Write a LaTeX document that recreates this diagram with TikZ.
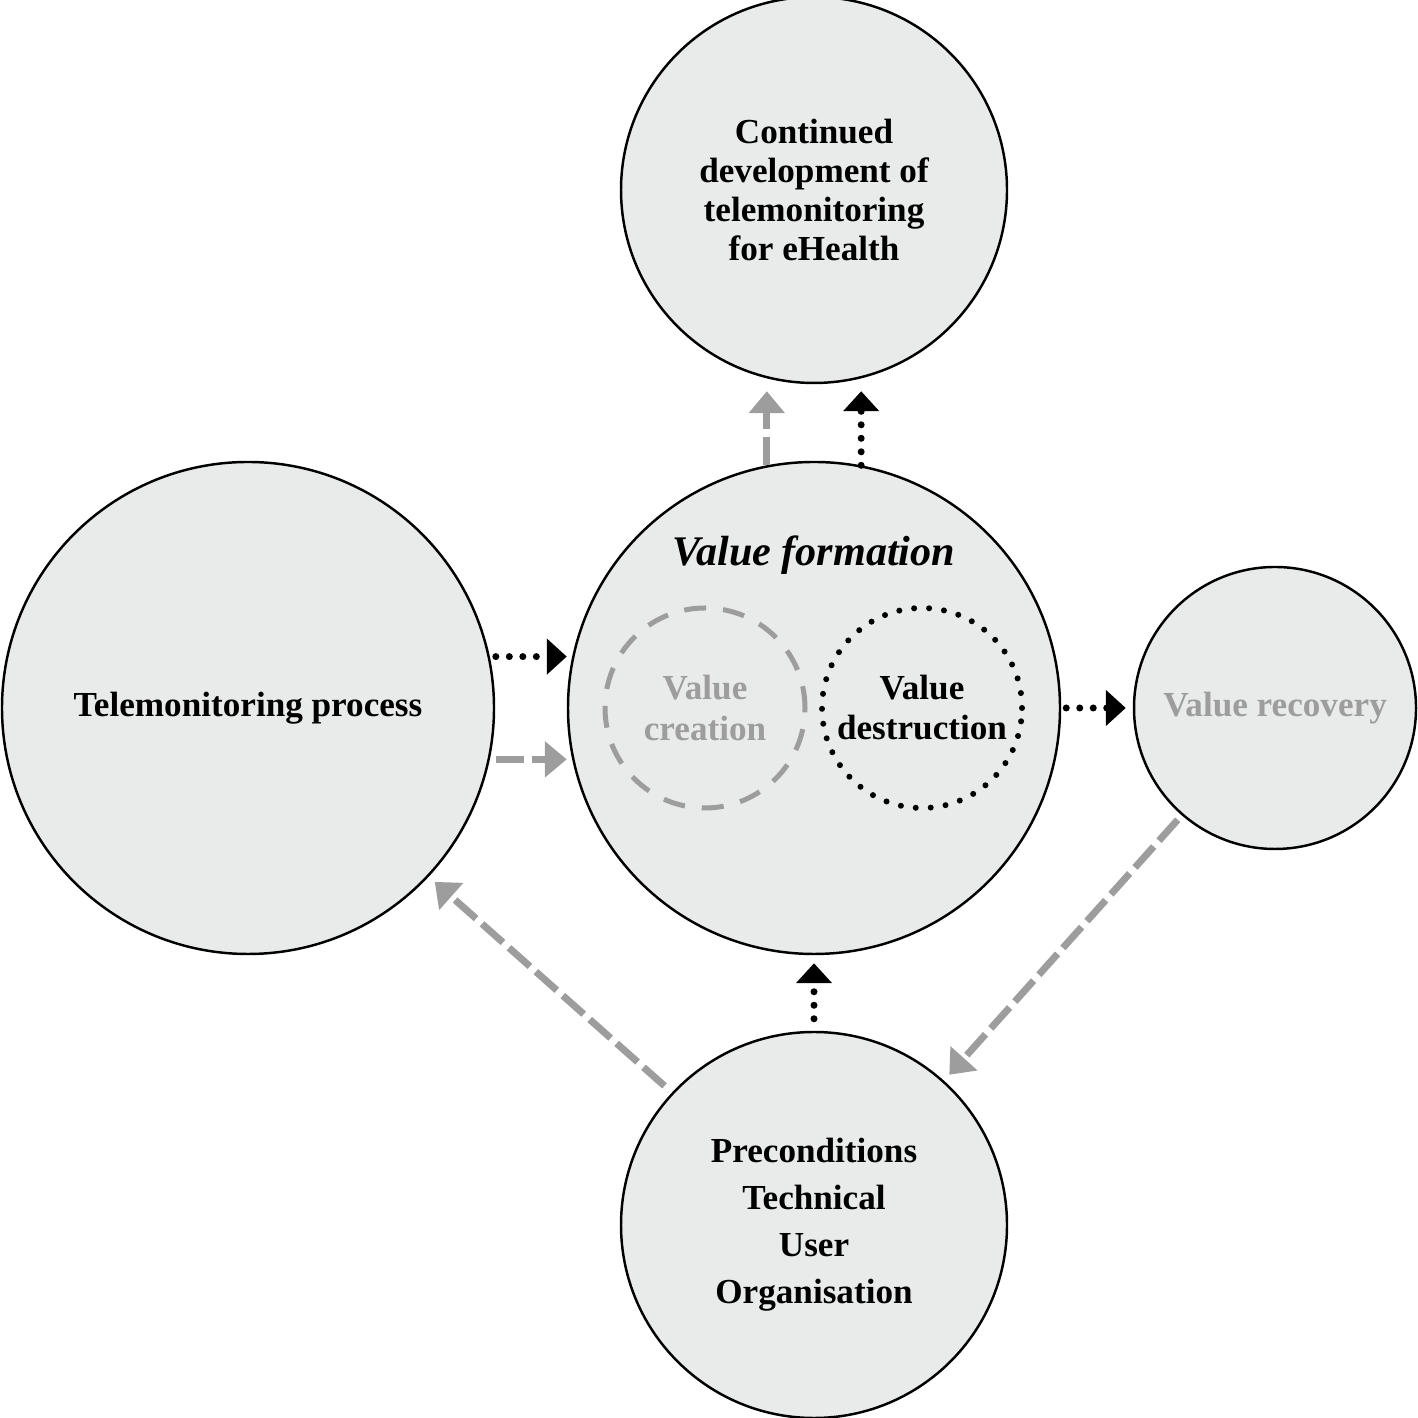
\documentclass[tikz,border=0pt]{standalone}
\usepackage{fontspec}
\setmainfont{Liberation Serif}
\usetikzlibrary{arrows.meta}

\definecolor{bubblegrey}{HTML}{E9EAEA}
\definecolor{linegrey}{HTML}{9D9D9D}

\tikzset{
  bubble/.style={circle, draw=black, line width=0.7pt, fill=bubblegrey, align=center, inner sep=0pt},
  dotarrow/.style={line width=0.07cm, line cap=round, dash pattern=on 0pt off 0.135cm,
    -{Triangle[length=0.2cm,width=0.35cm]}},
  dasharrow/.style={linegrey, line width=0.07cm, dash pattern=on 0.28cm off 0.08cm,
    -{Triangle[length=0.22cm,width=0.35cm]}}
}

\begin{document}
\begin{tikzpicture}[every node/.style={font=\fontsize{10}{11.1}\selectfont\bfseries}]
  \useasboundingbox (0,0) rectangle (14.18,14.18);

  % circles
  \node[bubble, minimum size=3.86cm] (dev) at (8.14,12.28) {Continued\\development of\\telemonitoring\\for eHealth};
  \node[bubble, minimum size=4.92cm] (proc) at (2.48,7.10) {Telemonitoring process};
  \node[bubble, minimum size=4.92cm] (mid) at (8.14,7.10) {};
  \node[bubble, minimum size=2.82cm, text=linegrey] (recover) at (12.75,7.10) {Value recovery};
  \node[bubble, minimum size=3.86cm, font=\fontsize{10}{13.4}\selectfont\bfseries] (pre) at (8.14,1.93) {Preconditions\\Technical\\User\\Organisation};

  % inside value formation
  \node[font=\fontsize{12}{14}\selectfont\bfseries\itshape] (form) at (8.14,8.63) {Value formation};
  \node[circle, draw=linegrey, line width=0.05cm, dash pattern=on 0.22cm off 0.17cm,
        minimum size=2cm, inner sep=0pt, text=linegrey, align=center,
        font=\fontsize{10}{11.4}\selectfont\bfseries] (create) at (7.05,7.10) {Value\\creation};
  \node[circle, draw, line width=0.06cm, line cap=round, dash pattern=on 0pt off 0.15cm,
        minimum size=2cm, inner sep=0pt, align=center,
        font=\fontsize{10}{11.4}\selectfont\bfseries] (destroy) at (9.22,7.10) {Value\\destruction};

  % connectors
  \draw[dasharrow, shorten >=0.07cm] (mid.101) -- (mid.101 |- dev.south);
  \draw[dotarrow, shorten >=0.07cm] (mid.79) -- (mid.79 |- dev.south);
  \draw[dotarrow, shorten <=0.06cm] (proc.12) -- (proc.12 -| mid.west);
  \draw[dasharrow, shorten <=0.06cm] (proc.-12) -- (proc.-12 -| mid.west);
  \draw[dotarrow, shorten <=0.05cm, shorten >=0.07cm] (mid.east) -- (recover.west);
  \draw[dasharrow, shorten <=0.06cm, shorten >=0.08cm] (recover.229) -- (pre.48);
  \draw[dasharrow, shorten <=0.1cm, shorten >=0.08cm] (pre.137) -- (proc.-43);
  \draw[dotarrow, shorten <=0.12cm, shorten >=0.08cm] (pre.north) -- (mid.south);
\end{tikzpicture}
\end{document}
